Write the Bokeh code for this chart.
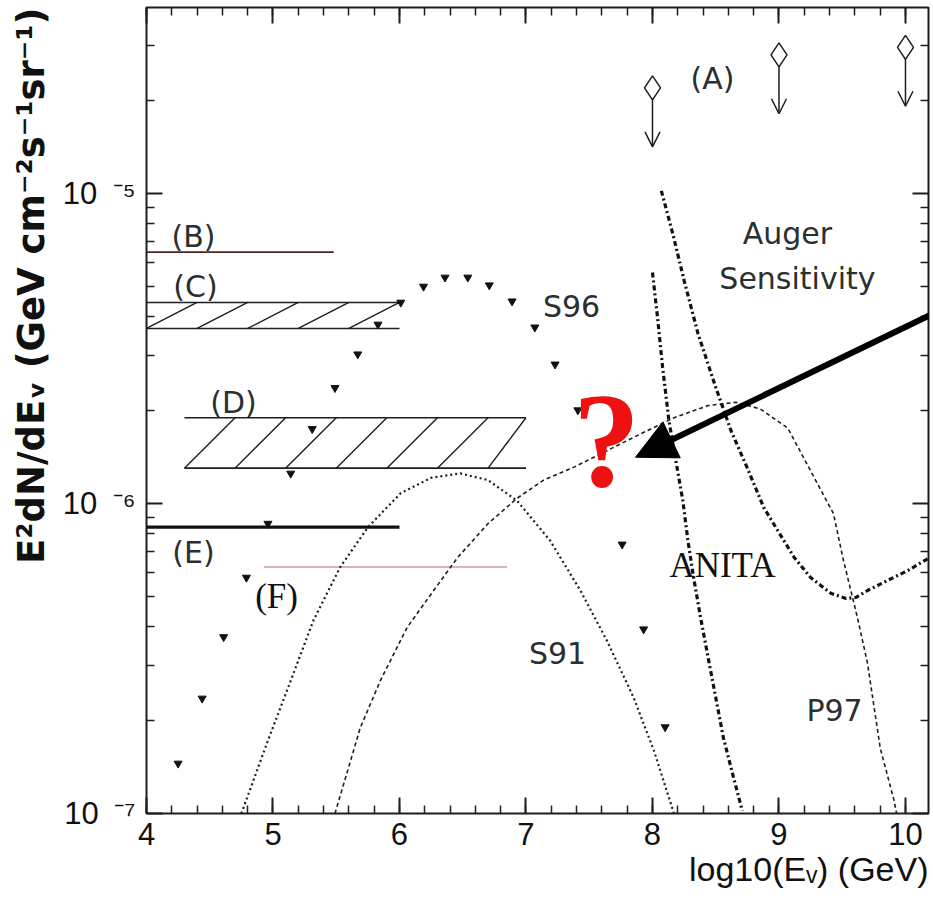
import numpy as np
from bokeh.plotting import figure
from bokeh.models import (FixedTicker, LinearAxis, LogAxis, Range1d, ColumnDataSource,
                          Title, Arrow, OpenHead, NormalHead, CustomJSTickFormatter)
from bokeh.core.properties import value
from bokeh.embed import file_html
from bokeh.resources import INLINE

# ---------------- data ----------------
s96_x = [4.25, 4.44, 4.61, 4.79, 4.96, 5.14, 5.31, 5.49, 5.67, 5.83, 6.01, 6.19,
         6.36, 6.54, 6.71, 6.89, 7.07, 7.23, 7.41, 7.59, 7.76, 7.93, 8.10]
s96_y = [1.45e-7, 2.35e-7, 3.71e-7, 5.77e-7, 8.61e-7, 1.25e-6, 1.74e-6, 2.36e-6,
         3.03e-6, 3.78e-6, 4.45e-6, 5.01e-6, 5.36e-6, 5.36e-6, 5.06e-6, 4.49e-6,
         3.70e-6, 2.81e-6, 2.00e-6, 1.27e-6, 7.38e-7, 3.93e-7, 1.90e-7]

s91_x = [4.75, 4.96, 5.12, 5.32, 5.53, 5.75, 6.01, 6.25, 6.48, 6.70, 6.93, 7.19,
         7.43, 7.64, 7.85, 8.01, 8.17]
s91_y = [1.00e-7, 1.72e-7, 2.55e-7, 4.20e-7, 6.22e-7, 8.38e-7, 1.08e-6, 1.21e-6,
         1.25e-6, 1.19e-6, 1.02e-6, 7.60e-7, 5.24e-7, 3.61e-7, 2.37e-7, 1.60e-7, 1.00e-7]

p97_x = [5.49, 5.69, 5.85, 6.06, 6.27, 6.46, 6.70, 6.93, 7.14, 7.38, 7.64, 7.91,
         8.17, 8.44, 8.66, 8.85, 9.07, 9.27, 9.43, 9.51, 9.62, 9.70, 9.80, 9.91, 9.93]
p97_y = [1.00e-7, 1.89e-7, 2.69e-7, 3.98e-7, 5.24e-7, 6.70e-7, 8.61e-7, 1.04e-6,
         1.19e-6, 1.31e-6, 1.48e-6, 1.68e-6, 1.89e-6, 2.07e-6, 2.12e-6, 2.02e-6,
         1.75e-6, 1.23e-6, 9.29e-7, 6.55e-7, 4.29e-7, 3.05e-7, 1.63e-7, 1.10e-7, 1.00e-7]

auger_x = [8.07, 8.16, 8.25, 8.36, 8.50, 8.62, 8.75, 8.88, 8.99, 9.12, 9.25, 9.41,
           9.53, 9.61, 9.70, 9.86, 10.02, 10.18]
auger_y = [1.02e-5, 7.43e-6, 5.24e-6, 3.53e-6, 2.37e-6, 1.72e-6, 1.30e-6, 9.70e-7,
           8.18e-7, 6.70e-7, 5.77e-7, 5.13e-7, 4.94e-7, 4.98e-7, 5.24e-7, 5.65e-7,
           6.08e-7, 6.65e-7]

anita_x = [8.00, 8.04, 8.08, 8.13, 8.18, 8.24, 8.28, 8.32, 8.38, 8.44, 8.50, 8.56, 8.64, 8.71]
anita_y = [5.56e-6, 3.98e-6, 2.75e-6, 1.85e-6, 1.41e-6, 1.02e-6, 7.60e-7, 5.94e-7,
           4.29e-7, 3.18e-7, 2.37e-7, 1.76e-7, 1.31e-7, 1.02e-7]

limit_x = [8.0, 9.0, 10.0]          # (A) upper limits
limit_y = [2.19e-5, 2.80e-5, 2.96e-5]

b_x = [4.0, 5.48]; b_y = 6.47e-6     # (B)
c_x = [4.0, 6.0]; c_y = [3.67e-6, 4.45e-6]   # (C) band
d_x = [4.3, 7.0]; d_y = [1.30e-6, 1.89e-6]   # (D) band
e_x = [4.0, 6.0]; e_y = 8.39e-7      # (E)
f_x = [4.93, 6.85]; f_y = 6.24e-7    # (F)

x_ticks = [4, 5, 6, 7, 8, 9, 10]
y_ticks = [1e-7, 1e-6, 1e-5]
y_tick_labels = ["10\u2002\u207b\u2077", "10\u2002\u207b\u2076", "10\u2002\u207b\u2075"]

pointer_start = (10.22, 4.10e-6)     # big arrow pointing at the "?"
pointer_end = (7.866, 1.41e-6)

# ---------------- figure ----------------
X_MIN, X_MAX = 4.0, 10.182
Y_MIN, Y_MAX = 1e-7, 3.98e-5
INK = "#1a1f1f"

p = figure(width=933, height=899, x_range=Range1d(X_MIN, X_MAX),
           y_range=Range1d(Y_MIN, Y_MAX), y_axis_type="log",
           output_backend="svg", toolbar_location=None,
           min_border_left=146, min_border_right=5, min_border_top=7, min_border_bottom=86)
p.grid.visible = False
p.background_fill_color = "white"
p.border_fill_color = "white"
p.outline_line_color = INK
p.outline_line_width = 2

x_minor = [round(v, 1) for v in np.arange(4.0, 10.2, 0.2)]
y_minor = [m * 10.0 ** e for e in (-7, -6, -5) for m in range(2, 10)]
xticker = FixedTicker(ticks=x_ticks, minor_ticks=x_minor)
yticker = FixedTicker(ticks=y_ticks, minor_ticks=y_minor)

def style_axis(ax, show_labels):
    ax.axis_line_color = None
    ax.major_tick_in = 16
    ax.major_tick_out = 0
    ax.minor_tick_in = 8
    ax.minor_tick_out = 0
    ax.major_tick_line_color = INK
    ax.minor_tick_line_color = INK
    ax.major_tick_line_width = 2
    ax.minor_tick_line_width = 1.5
    if not show_labels:
        ax.formatter = CustomJSTickFormatter(code="return ''")
        ax.major_label_text_font_size = "1px"
        ax.major_label_standoff = 0

xa = p.xaxis[0]
xa.ticker = xticker
style_axis(xa, True)
xa.major_label_text_font = "Liberation Sans"
xa.major_label_text_font_size = "31px"
xa.major_label_text_color = "#111"
xa.major_label_standoff = 9

ya = p.yaxis[0]
ya.ticker = yticker
style_axis(ya, True)
ya.major_label_overrides = {t: lab for t, lab in zip(y_ticks, y_tick_labels)}
ya.major_label_text_font = "Liberation Sans"
ya.major_label_text_font_size = "31px"
ya.major_label_text_color = "#111"
ya.major_label_standoff = 11

top = LinearAxis(ticker=xticker)
style_axis(top, False)
p.add_layout(top, "above")
right = LogAxis(ticker=yticker)
style_axis(right, False)
p.add_layout(right, "right")

# axis titles (as side-panel titles so they can be aligned like the reference)
p.add_layout(Title(text="E²dN/dEᵥ (GeV cm⁻²s⁻¹sr⁻¹)", align="right",
                   text_font="DejaVu Sans", text_font_style="bold", text_font_size="37px",
                   text_color="#111", standoff=14), "left")
p.add_layout(Title(text="log10(Eᵥ) (GeV)", align="right",
                   text_font="Liberation Sans", text_font_style="normal", text_font_size="34px",
                   text_color="#111", standoff=0), "below")

# ---------------- horizontal limits / bands ----------------
p.segment(x0=b_x[0], y0=b_y, x1=b_x[1], y1=b_y, line_color="#4a2424", line_width=1.8)
p.segment(x0=e_x[0], y0=e_y, x1=e_x[1], y1=e_y, line_color="#111", line_width=3.2)
p.segment(x0=f_x[0], y0=f_y, x1=f_x[1], y1=f_y, line_color="#b46a6a", line_width=1.2)

HATCH = 0.4
for bx, by in ((c_x, c_y), (d_x, d_y)):
    p.segment(x0=[bx[0], bx[0]], y0=[by[0], by[1]], x1=[bx[1], bx[1]], y1=[by[0], by[1]],
              line_color=INK, line_width=1.6)
    starts = np.arange(bx[0], bx[1] - HATCH / 2, HATCH)
    ends = np.minimum(starts + HATCH, bx[1])
    p.segment(x0=starts, y0=[by[0]] * len(starts), x1=ends, y1=[by[1]] * len(starts),
              line_color=INK, line_width=1.4)

# ---------------- model curves ----------------
p.line(s91_x, s91_y, line_color=INK, line_width=2.2, line_dash="2 3")
p.line(p97_x, p97_y, line_color=INK, line_width=1.6, line_dash="4 3")
p.line(auger_x, auger_y, line_color="#111", line_width=3.2, line_dash="5 3 2 3")
p.line(anita_x, anita_y, line_color="#111", line_width=3.2, line_dash="5 3 2 3")

p.scatter(s96_x, s96_y, marker="inverted_triangle", size=8, color="#111")

# (A) upper limits
p.scatter(limit_x, limit_y, marker="diamond", size=24, fill_color=None,
          line_color=INK, line_width=1.5)
lim_src = ColumnDataSource(dict(x0=limit_x, y0=[v * 10 ** -0.035 for v in limit_y],
                                x1=limit_x, y1=[v * 10 ** -0.19 for v in limit_y]))
p.add_layout(Arrow(end=OpenHead(size=15, line_width=1.5, line_color=INK),
                   x_start="x0", y_start="y0", x_end="x1", y_end="y1",
                   source=lim_src, line_width=1.5, line_color=INK))

# big pointer arrow
p.add_layout(Arrow(end=NormalHead(size=40, fill_color="black", line_color="black"),
                   x_start=pointer_start[0], y_start=pointer_start[1],
                   x_end=pointer_end[0], y_end=pointer_end[1],
                   line_width=6, line_color="black"))

# ---------------- text annotations ----------------
sans_src = ColumnDataSource(dict(
    x=[8.474, 4.372, 4.387, 4.688, 4.372, 7.36, 7.249, 9.439, 9.067, 9.146],
    y=[2.35e-5, 7.26e-6, 5.01e-6, 2.12e-6, 6.96e-7, 4.31e-6, 3.28e-7, 2.15e-7, 7.43e-6, 5.32e-6],
    text=["(A)", "(B)", "(C)", "(D)", "(E)", "S96", "S91", "P97", "Auger", "Sensitivity"]))
p.text(x="x", y="y", text="text", source=sans_src, text_font=value("DejaVu Sans"),
       text_font_size="30px", text_align="center", text_baseline="middle", text_color="#2a2f2f")

serif_src = ColumnDataSource(dict(x=[5.028, 8.553], y=[5.01e-7, 6.31e-7], text=["(F)", "ANITA"]))
p.text(x="x", y="y", text="text", source=serif_src, text_font=value("Liberation Serif"),
       text_font_size="35px", text_align="center", text_baseline="middle", text_color="#111")

p.text(x=[7.636], y=[1.60e-6], text=["?"], text_font=value("Liberation Serif"),
       text_font_style="bold", text_font_size="135px", text_align="center",
       text_baseline="middle", text_color="#ee1111")

open("out.html", "w").write(file_html(p, INLINE))
